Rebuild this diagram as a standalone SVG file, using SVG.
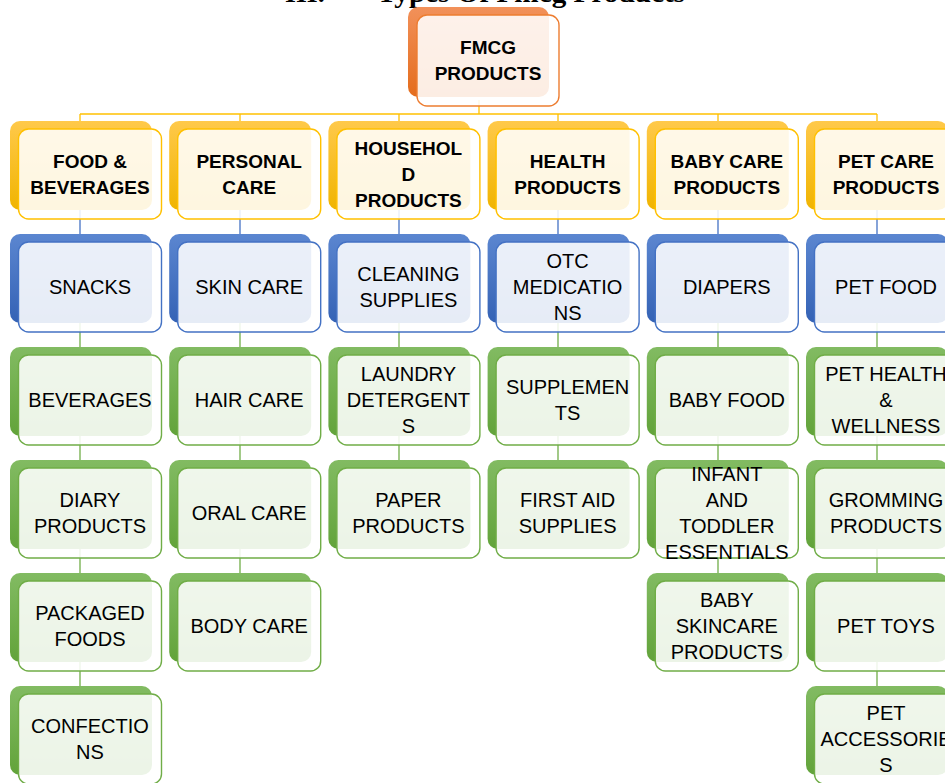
<svg xmlns="http://www.w3.org/2000/svg" width="945" height="783" viewBox="0 0 945 783">
<defs>
<linearGradient id="gO" x1="0" y1="0" x2="0" y2="1"><stop offset="0" stop-color="#F2915A"/><stop offset="1" stop-color="#E46C1C"/></linearGradient>
<linearGradient id="gY" x1="0" y1="0" x2="0" y2="1"><stop offset="0" stop-color="#FFC94A"/><stop offset="1" stop-color="#F0B400"/></linearGradient>
<linearGradient id="gB" x1="0" y1="0" x2="0" y2="1"><stop offset="0" stop-color="#5B86D0"/><stop offset="1" stop-color="#3462B5"/></linearGradient>
<linearGradient id="gG" x1="0" y1="0" x2="0" y2="1"><stop offset="0" stop-color="#82BB62"/><stop offset="1" stop-color="#62A33A"/></linearGradient>
<style>
.f{fill:#fff;fill-opacity:0.88;stroke-width:1.4}
.o .b{fill:url(#gO)} .o .f{stroke:#ED7D31}
.y .b{fill:url(#gY)} .y .f{stroke:#FFC000}
.bl .b{fill:url(#gB)} .bl .f{stroke:#4472C4}
.g .b{fill:url(#gG)} .g .f{stroke:#70AD47}
text{font-family:"Liberation Sans",Arial,sans-serif;font-size:20px;fill:#000;text-anchor:middle}
.bd{font-weight:bold;font-size:19px}
.title{font-family:"Liberation Serif","Times New Roman",serif;font-weight:bold;font-size:28px;text-anchor:start}
#connectors line{stroke-width:1.3;fill:none}
.cy{stroke:#FFC000}.cb{stroke:#4472C4}.cg{stroke:#70AD47}
</style>
</defs>
<rect width="945" height="783" fill="#fff"/>
<text class="title" x="285" y="2">III.</text>
<text class="title" x="377" y="2" textLength="308" lengthAdjust="spacingAndGlyphs">Types Of Fmcg Products</text>
<g id="connectors">
<line class="cy" x1="479" y1="100" x2="479" y2="114"/>
<line class="cy" x1="80" y1="114" x2="877" y2="114"/>
<line class="cy" x1="80" y1="114" x2="80" y2="129"/>
<line class="cy" x1="240" y1="114" x2="240" y2="129"/>
<line class="cy" x1="399" y1="114" x2="399" y2="129"/>
<line class="cy" x1="558" y1="114" x2="558" y2="129"/>
<line class="cy" x1="718" y1="114" x2="718" y2="129"/>
<line class="cy" x1="877" y1="114" x2="877" y2="129"/>
<line class="cb" x1="80" y1="205" x2="80" y2="242"/>
<line class="cb" x1="240" y1="205" x2="240" y2="242"/>
<line class="cb" x1="399" y1="205" x2="399" y2="242"/>
<line class="cb" x1="558" y1="205" x2="558" y2="242"/>
<line class="cb" x1="718" y1="205" x2="718" y2="242"/>
<line class="cb" x1="877" y1="205" x2="877" y2="242"/>
<line class="cg" x1="80" y1="318" x2="80" y2="694"/>
<line class="cg" x1="240" y1="318" x2="240" y2="581"/>
<line class="cg" x1="399" y1="318" x2="399" y2="468"/>
<line class="cg" x1="558" y1="318" x2="558" y2="468"/>
<line class="cg" x1="718" y1="318" x2="718" y2="581"/>
<line class="cg" x1="877" y1="318" x2="877" y2="694"/>
</g>
<g id="n-root" class="o"><rect class="b" x="408" y="7" width="141" height="90" rx="10"/><rect class="f" x="417" y="15" width="142" height="91" rx="10"/><text class="bd" x="488" y="54">FMCG</text><text class="bd" x="488" y="80">PRODUCTS</text></g>

<g id="n-food" class="y"><rect class="b" x="10" y="121" width="142" height="89" rx="10"/><rect class="f" x="18.5" y="129" width="143" height="90" rx="10"/><text class="bd" x="90" y="168">FOOD &amp;</text><text class="bd" x="90" y="194">BEVERAGES</text></g>
<g id="n-personal" class="y"><rect class="b" x="169.2" y="121" width="142" height="89" rx="10"/><rect class="f" x="177.7" y="129" width="143" height="90" rx="10"/><text class="bd" x="249.2" y="168">PERSONAL</text><text class="bd" x="249.2" y="194">CARE</text></g>
<g id="n-household" class="y"><rect class="b" x="328.4" y="121" width="142" height="89" rx="10"/><rect class="f" x="336.9" y="129" width="143" height="90" rx="10"/><text class="bd" x="408.4" y="155">HOUSEHOL</text><text class="bd" x="408.4" y="181">D</text><text class="bd" x="408.4" y="207">PRODUCTS</text></g>
<g id="n-health" class="y"><rect class="b" x="487.6" y="121" width="142" height="89" rx="10"/><rect class="f" x="496.1" y="129" width="143" height="90" rx="10"/><text class="bd" x="567.6" y="168">HEALTH</text><text class="bd" x="567.6" y="194">PRODUCTS</text></g>
<g id="n-baby" class="y"><rect class="b" x="646.8" y="121" width="142" height="89" rx="10"/><rect class="f" x="655.3" y="129" width="143" height="90" rx="10"/><text class="bd" x="726.8" y="168">BABY CARE</text><text class="bd" x="726.8" y="194">PRODUCTS</text></g>
<g id="n-pet" class="y"><rect class="b" x="806" y="121" width="142" height="89" rx="10"/><rect class="f" x="814.5" y="129" width="143" height="90" rx="10"/><text class="bd" x="886" y="168">PET CARE</text><text class="bd" x="886" y="194">PRODUCTS</text></g>

<g id="n-snacks" class="bl"><rect class="b" x="10" y="234" width="142" height="89" rx="10"/><rect class="f" x="18.5" y="242" width="143" height="90" rx="10"/><text x="90" y="294">SNACKS</text></g>
<g id="n-skin" class="bl"><rect class="b" x="169.2" y="234" width="142" height="89" rx="10"/><rect class="f" x="177.7" y="242" width="143" height="90" rx="10"/><text x="249.2" y="294">SKIN CARE</text></g>
<g id="n-cleaning" class="bl"><rect class="b" x="328.4" y="234" width="142" height="89" rx="10"/><rect class="f" x="336.9" y="242" width="143" height="90" rx="10"/><text x="408.4" y="281">CLEANING</text><text x="408.4" y="307">SUPPLIES</text></g>
<g id="n-otc" class="bl"><rect class="b" x="487.6" y="234" width="142" height="89" rx="10"/><rect class="f" x="496.1" y="242" width="143" height="90" rx="10"/><text x="567.6" y="268">OTC</text><text x="567.6" y="294">MEDICATIO</text><text x="567.6" y="320">NS</text></g>
<g id="n-diapers" class="bl"><rect class="b" x="646.8" y="234" width="142" height="89" rx="10"/><rect class="f" x="655.3" y="242" width="143" height="90" rx="10"/><text x="726.8" y="294">DIAPERS</text></g>
<g id="n-petfood" class="bl"><rect class="b" x="806" y="234" width="142" height="89" rx="10"/><rect class="f" x="814.5" y="242" width="143" height="90" rx="10"/><text x="886" y="294">PET FOOD</text></g>

<g id="n-beverages" class="g"><rect class="b" x="10" y="347" width="142" height="89" rx="10"/><rect class="f" x="18.5" y="355" width="143" height="90" rx="10"/><text x="90" y="407">BEVERAGES</text></g>
<g id="n-hair" class="g"><rect class="b" x="169.2" y="347" width="142" height="89" rx="10"/><rect class="f" x="177.7" y="355" width="143" height="90" rx="10"/><text x="249.2" y="407">HAIR CARE</text></g>
<g id="n-laundry" class="g"><rect class="b" x="328.4" y="347" width="142" height="89" rx="10"/><rect class="f" x="336.9" y="355" width="143" height="90" rx="10"/><text x="408.4" y="381">LAUNDRY</text><text x="408.4" y="407">DETERGENT</text><text x="408.4" y="433">S</text></g>
<g id="n-supplements" class="g"><rect class="b" x="487.6" y="347" width="142" height="89" rx="10"/><rect class="f" x="496.1" y="355" width="143" height="90" rx="10"/><text x="567.6" y="394">SUPPLEMEN</text><text x="567.6" y="420">TS</text></g>
<g id="n-babyfood" class="g"><rect class="b" x="646.8" y="347" width="142" height="89" rx="10"/><rect class="f" x="655.3" y="355" width="143" height="90" rx="10"/><text x="726.8" y="407">BABY FOOD</text></g>
<g id="n-pethealth" class="g"><rect class="b" x="806" y="347" width="142" height="89" rx="10"/><rect class="f" x="814.5" y="355" width="143" height="90" rx="10"/><text x="886" y="381">PET HEALTH</text><text x="886" y="407">&amp;</text><text x="886" y="433">WELLNESS</text></g>

<g id="n-diary" class="g"><rect class="b" x="10" y="460" width="142" height="89" rx="10"/><rect class="f" x="18.5" y="468" width="143" height="90" rx="10"/><text x="90" y="507">DIARY</text><text x="90" y="533">PRODUCTS</text></g>
<g id="n-oral" class="g"><rect class="b" x="169.2" y="460" width="142" height="89" rx="10"/><rect class="f" x="177.7" y="468" width="143" height="90" rx="10"/><text x="249.2" y="520">ORAL CARE</text></g>
<g id="n-paper" class="g"><rect class="b" x="328.4" y="460" width="142" height="89" rx="10"/><rect class="f" x="336.9" y="468" width="143" height="90" rx="10"/><text x="408.4" y="507">PAPER</text><text x="408.4" y="533">PRODUCTS</text></g>
<g id="n-firstaid" class="g"><rect class="b" x="487.6" y="460" width="142" height="89" rx="10"/><rect class="f" x="496.1" y="468" width="143" height="90" rx="10"/><text x="567.6" y="507">FIRST AID</text><text x="567.6" y="533">SUPPLIES</text></g>
<g id="n-infant" class="g"><rect class="b" x="646.8" y="460" width="142" height="89" rx="10"/><rect class="f" x="655.3" y="468" width="143" height="90" rx="10"/><text x="726.8" y="481">INFANT</text><text x="726.8" y="507">AND</text><text x="726.8" y="533">TODDLER</text><text x="726.8" y="559">ESSENTIALS</text></g>
<g id="n-gromming" class="g"><rect class="b" x="806" y="460" width="142" height="89" rx="10"/><rect class="f" x="814.5" y="468" width="143" height="90" rx="10"/><text x="886" y="507">GROMMING</text><text x="886" y="533">PRODUCTS</text></g>

<g id="n-packaged" class="g"><rect class="b" x="10" y="573" width="142" height="89" rx="10"/><rect class="f" x="18.5" y="581" width="143" height="90" rx="10"/><text x="90" y="620">PACKAGED</text><text x="90" y="646">FOODS</text></g>
<g id="n-body" class="g"><rect class="b" x="169.2" y="573" width="142" height="89" rx="10"/><rect class="f" x="177.7" y="581" width="143" height="90" rx="10"/><text x="249.2" y="633">BODY CARE</text></g>
<g id="n-babyskin" class="g"><rect class="b" x="646.8" y="573" width="142" height="89" rx="10"/><rect class="f" x="655.3" y="581" width="143" height="90" rx="10"/><text x="726.8" y="607">BABY</text><text x="726.8" y="633">SKINCARE</text><text x="726.8" y="659">PRODUCTS</text></g>
<g id="n-pettoys" class="g"><rect class="b" x="806" y="573" width="142" height="89" rx="10"/><rect class="f" x="814.5" y="581" width="143" height="90" rx="10"/><text x="886" y="633">PET TOYS</text></g>

<g id="n-confections" class="g"><rect class="b" x="10" y="686" width="142" height="89" rx="10"/><rect class="f" x="18.5" y="694" width="143" height="90" rx="10"/><text x="90" y="733">CONFECTIO</text><text x="90" y="759">NS</text></g>
<g id="n-petacc" class="g"><rect class="b" x="806" y="686" width="142" height="89" rx="10"/><rect class="f" x="814.5" y="694" width="143" height="90" rx="10"/><text x="886" y="720">PET</text><text x="886" y="746">ACCESSORIE</text><text x="886" y="772">S</text></g>
</svg>
